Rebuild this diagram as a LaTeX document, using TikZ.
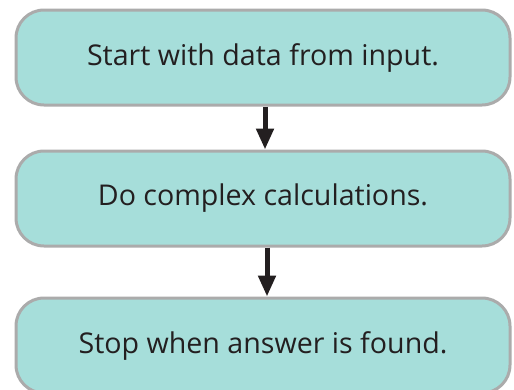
\documentclass[tikz,border=0pt]{standalone}
\usepackage{fontspec}
\setmainfont{Open Sans}
\usetikzlibrary{arrows.meta}
\definecolor{boxfill}{HTML}{A6DEDA}
\definecolor{boxline}{HTML}{ABABAB}
\definecolor{txt}{HTML}{231F20}
\begin{document}
\begin{tikzpicture}[x=1pt,y=1pt,
  stepbox/.style={draw=boxline, line width=3pt, fill=boxfill, rounded corners=28pt,
    minimum width=494pt, minimum height=95pt, inner sep=0pt, text=txt,
    font=\fontsize{28.6}{34}\selectfont},
  flow/.style={line width=5pt, draw=txt, -{Triangle[length=21pt,width=17pt]}, shorten >=0pt}]
\useasboundingbox (0,0) rectangle (514,-389);
\node[stepbox] (a) at (263,-57.5) {Start with data from input.};
\node[stepbox] (b) at (263,-198.5) {Do complex calculations.};
\node[stepbox] (c) at (263,-345.5) {Stop when answer is found.};
\draw[flow] ([xshift=2pt]a.south) -- ([xshift=2pt]b.north);
\draw[flow] ([xshift=4pt]b.south) -- ([xshift=4pt]c.north);
\end{tikzpicture}
\end{document}
